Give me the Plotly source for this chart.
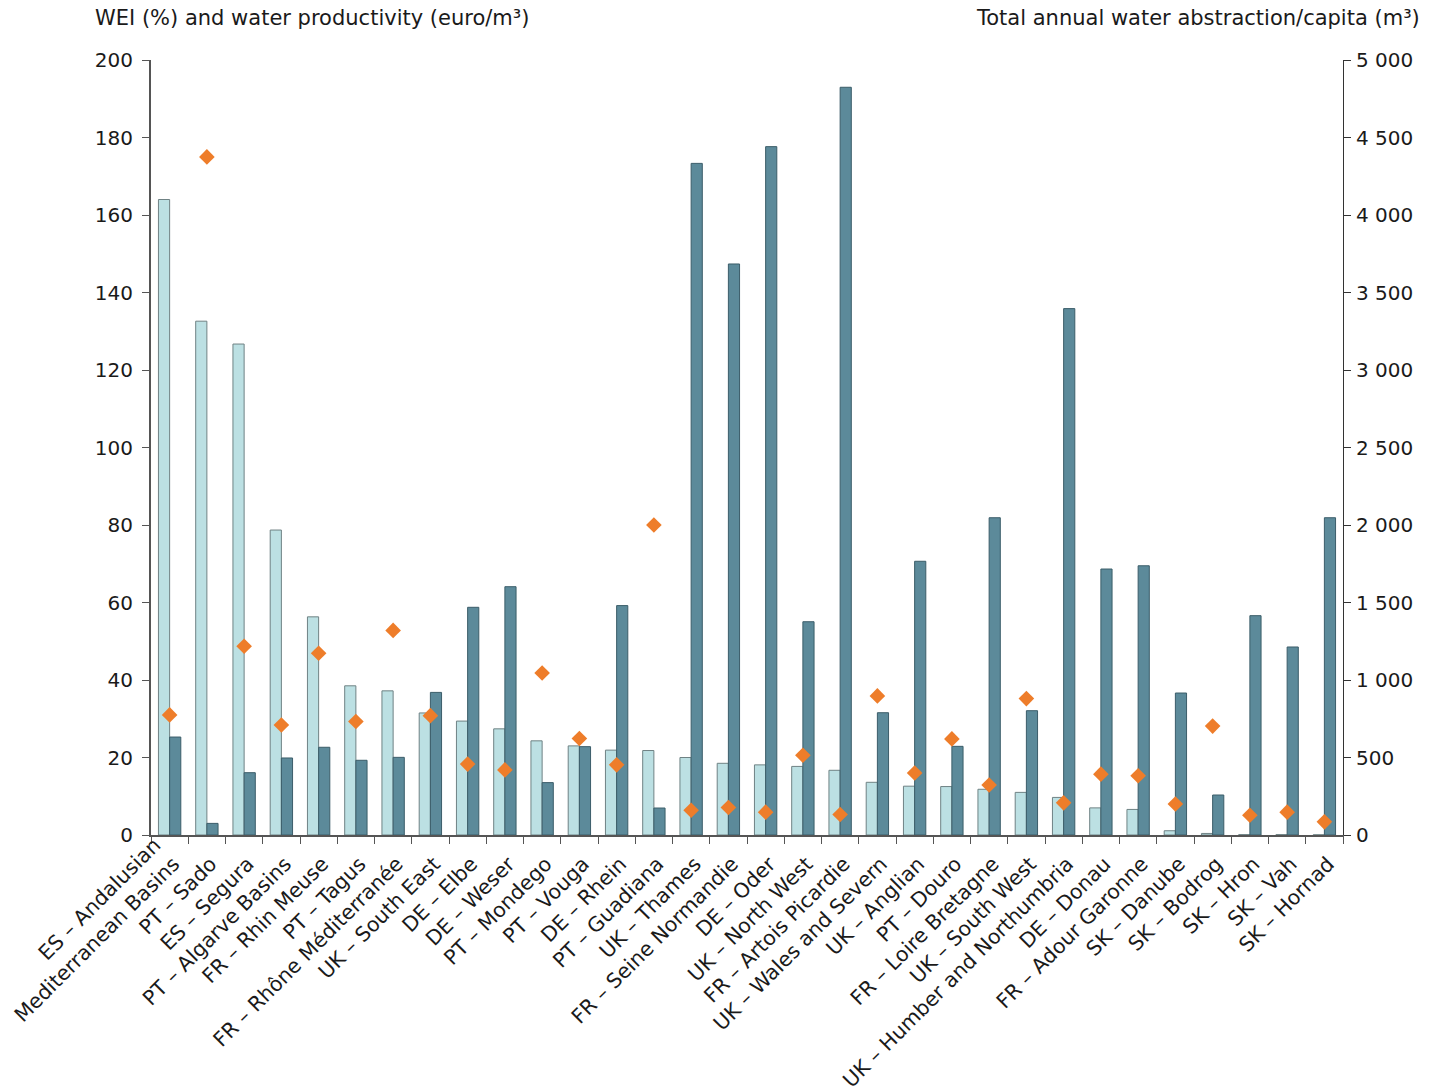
import plotly.graph_objects as go

categories = [
    "ES – Andalusian<br>Mediterranean Basins", "PT – Sado", "ES – Segura", "PT – Algarve Basins",
    "FR – Rhin Meuse", "PT – Tagus", "FR – Rhône Méditerranée", "UK – South East",
    "DE – Elbe", "DE – Weser", "PT – Mondego", "PT – Vouga", "DE – Rhein",
    "PT – Guadiana", "UK – Thames", "FR – Seine Normandie", "DE – Oder",
    "UK – North West", "FR – Artois Picardie", "UK – Wales and Severn", "UK – Anglian",
    "PT – Douro", "FR – Loire Bretagne", "UK – South West", "UK – Humber and Northumbria",
    "DE – Donau", "FR – Adour Garonne", "SK – Danube", "SK – Bodrog", "SK – Hron",
    "SK – Vah", "SK – Hornad",
]

wei = [164, 132.6, 126.7, 78.7, 56.3, 38.5, 37.2, 31.5, 29.4, 27.4, 24.3, 23.0, 21.9,
       21.8, 20.0, 18.5, 18.1, 17.7, 16.7, 13.6, 12.6, 12.5, 11.8, 11.0, 9.7,
       7.0, 6.6, 1.1, 0.4, 0.1, 0.1, 0.05]

abstraction = [632, 75, 402, 497, 566, 482, 501, 920, 1469, 1602, 338, 570, 1480,
               174, 4333, 3684, 4441, 1376, 4824, 789, 1766, 572, 2047, 802, 3396,
               1716, 1737, 916, 258, 1415, 1213, 2047]

productivity = [31.0, 175.0, 48.7, 28.4, 46.9, 29.3, 52.8, 30.8, 18.3, 16.8, 41.8, 24.9, 18.1,
                80.0, 6.4, 7.1, 5.9, 20.6, 5.3, 35.9, 16.0, 24.8, 12.9, 35.2, 8.3,
                15.7, 15.3, 8.0, 28.1, 5.1, 5.9, 3.4]

left_ticks = [0, 20, 40, 60, 80, 100, 120, 140, 160, 180, 200]
right_ticks = [0, 500, 1000, 1500, 2000, 2500, 3000, 3500, 4000, 4500, 5000]
right_ticktext = ["0", "500", "1 000", "1 500", "2 000", "2 500", "3 000", "3 500",
                  "4 000", "4 500", "5 000"]

left_title = "WEI (%) and water productivity (euro/m³)"
right_title = "Total annual water abstraction/capita (m³)"

FONT = "Verdana, DejaVu Sans, sans-serif"
TXT = "#1a1a1a"
AX = "#555555"

# single-line labels get an empty first line so that every label's last line
# sits at the same place (as with the reference's two-line first label)
n = len(categories)
ticktext = [c if "<br>" in c else "\u00a0<br>" + c for c in categories]

fig = go.Figure()
fig.add_trace(go.Bar(
    x=categories, y=wei, width=0.3, offset=-0.3,
    marker=dict(color="#bce0e3", line=dict(color="#6f8284", width=1)),
    name="WEI", yaxis="y",
))
fig.add_trace(go.Bar(
    x=categories, y=abstraction, width=0.3, offset=0,
    marker=dict(color="#5c8a9a", line=dict(color="#3b5d69", width=1)),
    name="Abstraction", yaxis="y2",
))
fig.add_trace(go.Scatter(
    x=categories, y=productivity, mode="markers",
    marker=dict(symbol="diamond", size=12, color="#ee7d2a"),
    name="Water productivity", yaxis="y3",
))

# page has an 8px body margin: figure is 1421x1080 placed at (8, 8)
fig.update_layout(
    width=1421, height=1080,
    margin=dict(l=143, r=86, t=52, b=253, autoexpand=False),
    paper_bgcolor="white", plot_bgcolor="white",
    showlegend=False,
    font=dict(family=FONT, size=20, color=TXT),
    xaxis=dict(
        showline=True, linecolor=AX, linewidth=2,
        ticks="outside", tickson="boundaries", ticklen=7, tickcolor=AX,
        tickangle=-45, tickfont=dict(size=20.5, color=TXT),
        tickmode="array", tickvals=categories, ticktext=ticktext,
        ticklabelshift=-15, ticklabelstandoff=-12,
        showgrid=False, range=[-0.5, n - 0.5], automargin=False,
    ),
    yaxis=dict(
        range=[0, 200], tickvals=left_ticks, showline=True, linecolor=AX, linewidth=2,
        ticks="outside", ticklen=7, tickcolor=AX, showgrid=False, zeroline=False,
        tickfont=dict(size=20, color=TXT), ticklabelstandoff=5, automargin=False,
    ),
    yaxis2=dict(
        range=[0, 5000], tickvals=right_ticks, ticktext=right_ticktext,
        overlaying="y", side="right", showline=True, linecolor="#333333", linewidth=1,
        ticks="outside", ticklen=7, tickcolor="#333333", showgrid=False, zeroline=False,
        tickfont=dict(size=20, color=TXT), ticklabelstandoff=1, automargin=False,
    ),
    yaxis3=dict(
        range=[0, 200], overlaying="y", visible=False,
    ),
    annotations=[
        dict(text=left_title, xref="paper", yref="paper", x=0, y=1,
             xanchor="left", yanchor="middle", xshift=-57, yshift=42, borderpad=0,
             showarrow=False, font=dict(size=21, color=TXT)),
        dict(text=right_title, xref="paper", yref="paper", x=1, y=1,
             xanchor="right", yanchor="middle", xshift=78, yshift=42, borderpad=0,
             showarrow=False, font=dict(size=21, color=TXT)),
    ],
)

fig.write_html("out.html")
